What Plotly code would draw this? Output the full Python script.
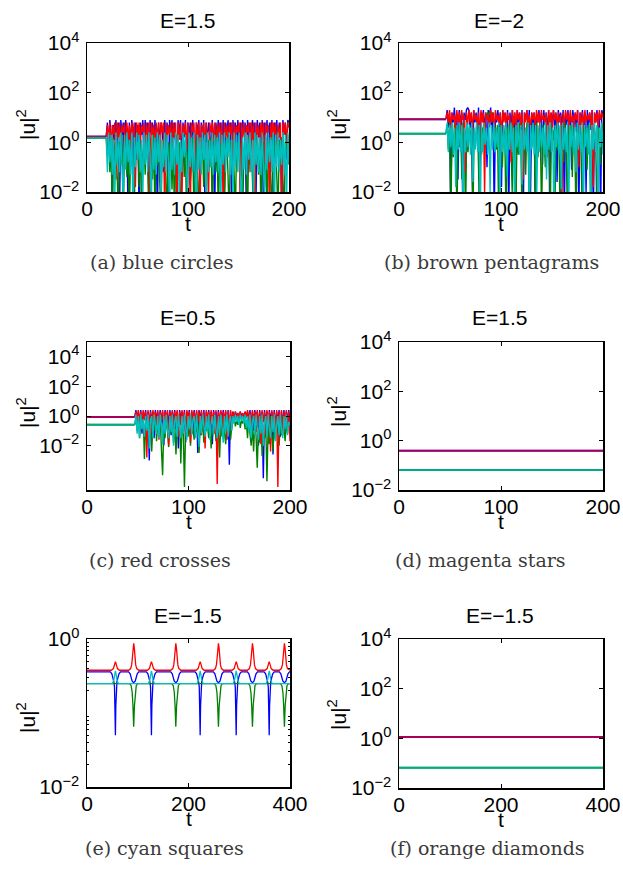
import numpy as np
import plotly.graph_objects as go

# ---------------- colours (MATLAB b, g, r, c) ----------------
C_BLUE, C_GREEN, C_RED, C_CYAN = "#0000FF", "#008000", "#FF0000", "#00BFBF"

titles = ["E=1.5", "E=\u22122", "E=0.5", "E=1.5", "E=\u22121.5", "E=\u22121.5"]
captions = ["(a) blue circles", "(b) brown pentagrams", "(c) red crosses",
            "(d) magenta stars", "(e) cyan squares", "(f) orange diamonds"]

# chaotic panels: values are log10(|u|^2) in tenths,
# spread evenly in time from the onset to the end of the run.

# ---------------- panel (a) ----------------
a_onset, a_tend = 19, 200
a_init_rb, a_init_gc = 2.3, 1.8
a_blue = [8, -2, 9, 3, -30, 7, 1, 9, -6, 8, -26, 9, 3, 8, -10, 9, 2, -30, 8, -2,
          9, 4, -16, 8, 0, 7, -30, 8, 3, 9, -8, 9, 1, 8, -22, 9, 4, 8, -5, 9,
          2, -30, 8, 0, 8, 5, -12, 9, 2, 8, -26, 9, 3, 9, -4, 8, 1, -30, 9, 4,
          9, -9, 8, 2, 9, -20, 8, 3, 8, -3, 9, 1, -30, 8, 4, 9, -11, 8, 2, 9,
          -24, 8, 0, 8, 4, -7, 9, 2, -30, 8, 3, 9, -5, 8, 1, 9, -18, 8, 4, 9,
          -2, 8, -30, 9, 3, 8, -8, 9, 2, 8, -14, 9, 4, 8, -30, 9, 1, 8, -6, 9,
          3, 8, -20, 9, 2, 8, -4, 9, -30, 8, 4, 9, -10, 8, 1, 9, -28, 8, 3, 9,
          -3, 8, 2, -30, 9, 4, 8, -7, 9, 8]
a_red = [7, 1, 8, -4, 7, 3, 8, -15, 8, 2, 8, -2, 7, 4, 8, -6, 8, 1, 7, -3,
         8, 3, 8, -18, 8, 2, 8, -1, 7, 4, 8, -5, 8, 1, 8, -30, 8, 3, 7, -2,
         8, 2, 8, -7, 8, 4, 8, -30, 8, 0, 7, 3, 8, -4, 8, 2, 8, -30, 8, 1,
         8, -30, 7, 3, 8, -3, 8, 2, -30, 8, 4, 8, -6, 8, 1, 8, -30, 7, 3, 8,
         -2, 8, 2, -22, 8, 4, 8, 0, 8, -5, 7, 3, 8, -1, 8, -30, 8, 2, 7, -4,
         8, 3, 8, -9, 8, 1, 7, 4, 8, -30, 8, 2, 8, -3, 7, 4, 8, -12, 8, 1,
         8, -30, 8, 3, 7, -2, 8, 2, 8, -8, 8, 4, 7, -30, 8, 1, 8, 3, 8, -5,
         7, 2, 8, -30, 8, 3, 8, -1, 8, 6]
a_green = [-5, 3, -12, 1, -30, 2, -8, 4, -16, -30, 0, -9, 3, -30, -4, 2, -14, 1, -30, -6,
           3, -10, -30, 2, -7, 0, -18, 3, -30, -5, 1, -13, 3, -8, -30, 2, -4, -15, 3, -30,
           0, -9, 2, -17, -30, 1, -6, 3, -12, -30, 0, -8, 2, -19, 1, -30, -5, 3, -11, 0,
           -30, -7, 2, -14, 1, -30, -3, 3, -16, -9, 2, -30, -2, 1, -13, -30, 2, -6, 0, -18,
           3, -30, -4, 1, -10, 2, -30, -5, 1, -12, 3, -30, -7, 2, -15, 0, -30, -3, 2, -11,
           -30, 1, -8, 3, -14, -30, 0, -6, 2, -17, 1, -30, -4, 3, -12, -30, 2, -9, 0, -16,
           -30, 2, -5, 1, -13, 3, -30, -7, 0, -18, 2, -30, -3, 1, -10, -30, 3, -6, 2, -15,
           -30, 1, -8, 2, -12, -30, 0, -4, 3, -9]
a_cyan = [-12, 4, -8, 3, -13, 1, -25, 4, -9, 2, -12, 4, -6, -24, 3, -11, 4, -8, 1, -13,
          4, -30, 2, -10, 4, -7, 3, -12, 1, -23, 4, -9, 3, -12, 4, -5, -28, 3, -11, 2,
          -13, 4, -8, 3, -22, 1, -10, 4, -12, 3, -7, -30, 4, -11, 2, -13, 4, -9, 3, -26,
          1, -12, 4, -6, 3, -13, -24, 4, -10, 2, -12, 4, -8, -30, 3, -11, 2, -13, 4, -7,
          3, -25, 4, -12, 1, -10, 4, -13, 3, -8, 2, -12, 4, -27, 3, -9, 4, -12, 2, -6,
          4, -13, 1, -23, 4, -10, 3, -12, 4, -8, -30, 2, -11, 4, -13, 3, -7, 4, -12, 1,
          -26, 4, -9, 3, -12, 2, -13, 4, -6, -24, 3, -11, 4, -8, 2, -12, 4, -30, 3, -10,
          4, -12, 1, -9, 4, -13, 3, -25, 4, -8]

# ---------------- panel (b) ----------------
b_onset, b_tend = 46, 200
b_init_rb, b_init_gc = 9.3, 3.5
b_blue = [13, 6, 12, -30, 12, 8, 14, 5, 12, -15, 13, 7, 12, -30, 12, 9, 13, 14, 13, 6,
          12, -20, 13, 8, 12, 4, 14, -30, 12, 9, 13, 5, 12, -10, 13, 7, 14, 3, 12, -30,
          12, 8, 13, 6, 12, -18, 13, 9, 12, 5, 13, -30, 12, 7, 13, 4, 12, -12, 13, 8,
          12, 5, 13, -30, 12, 9, 13, 6, 13, -22, 12, 7, 12, -30, 12, 8, 13, 6, 12, -9,
          13, 7, 12, 4, 13, -30, 12, 8, 13, 5, 12, -16, 13, 9, 12, 6, 13, -30, 12, 7,
          13, 5, 12, -11, 13, 8, 12, 4, 13, -30, 12, 9, 13, 6, 12, -20, 13, 7, 12, 5,
          13, -30, 12, 8, 13, 6, 12, -30, 13, 11]
b_red = [12, 8, 13, 6, 12, 9, 11, 5, 13, 8, 12, 4, 13, 9, 11, -12, 12, 7, 13, 8,
         12, 5, 13, 9, 11, 6, 12, 3, 13, 8, 12, -20, 12, 9, 11, 6, 13, 8, 12, 4,
         13, 9, 11, 7, 12, 2, 13, 8, 12, 6, 12, 9, 11, -8, 13, 7, 12, 5, 13, 9,
         12, 6, 12, -15, 12, 8, 13, 7, 11, 5, 12, 9, 12, 6, 13, 8, 12, 4, 13, 9,
         11, 7, 12, -6, 13, 8, 12, 5, 13, 9, 12, 6, 12, 8, 11, -25, 12, 7, 13, 9,
         12, 5, 13, 8, 11, 6, 12, 9, 13, -10, 12, 7, 12, 5, 13, 8, 11, 9, 12, 6,
         13, -18, 12, 8, 12, 6, 13, 9, 12, 10]
b_green = [7, -3, 9, -30, 5, -6, 8, 2, -30, 7, -2, 6, -15, 8, 1, -30, 7, -4, 6, 0,
           8, -30, 5, -2, 7, 3, -20, 8, -5, 6, 1, 8, 10, 12, 11, 13, 10, 12, 9, 6,
           -3, 7, -30, 5, 8, -10, 7, 2, -30, 6, -3, 8, 0, -20, 7, 3, -30, 6, -5, 8,
           1, -30, 7, 4, -13, 8, 0, -30, 6, -2, 7, 3, -30, 8, -6, 6, 1, -30, 7, 2,
           -10, 8, -4, 6, -30, 7, 1, 5, -20, 8, -3, 6, -30, 7, 2, -8, 8, -1, -30, 6,
           3, 7, -14, 8, 0, -30, 6, -4, 7, 2, -30, 8, -2, 6, -11, 7, 3, -30, 8, -5,
           6, 1, -30, 7, 2, -9, 8, 4]
b_cyan = [8, -4, 7, -2, 8, -5, 6, -18, 7, -3, 8, -4, 7, -30, 6, -4, 8, -2, 7, -5,
          8, -16, 6, -3, 8, -4, 7, -30, 7, -4, 8, -1, 6, -5, 8, -20, 7, -3, 8, -4,
          6, -2, 8, -30, 7, -4, 7, -5, 8, -14, 7, -3, 8, -4, 6, -30, 7, -2, 8, -5,
          7, -17, 8, -3, 6, -4, 8, -30, 7, -3, 8, -5, 7, -22, 7, -4, 8, -2, 6, -5,
          8, -15, 7, -3, 8, -4, 6, -30, 7, -2, 8, -5, 7, -19, 8, -3, 6, -4, 8, -30,
          7, -2, 8, -5, 6, -12, 8, -3, 7, -4, 8, -30, 7, -2, 6, -5, 8, -24, 7, -3,
          8, -4, 7, -30, 6, -2, 8, -5]

# ---------------- panel (c) ----------------
c_onset, c_tend = 47, 200
c_init_rb, c_init_gc = -0.7, -5.9
c_blue = [4, -3, 3, -6, 4, -12, 3, -2, 4, -8, 3, -30, 4, -4, 3, -15, 4, -2, 3, -9,
          4, -5, 3, -20, 4, -3, 3, -7, 4, -13, 3, -4, 4, -9, 3, -22, 4, -2, 3, -6,
          4, -18, 3, -3, 4, -8, 3, -12, 4, -5, 3, -25, 4, -2, 3, -7, 4, -14, 3, -4,
          4, -9, 3, -19, 4, -3, 3, -6, 4, -11, 3, -4, 4, -8, 3, -16, 4, -33, 3, -5,
          3, -2, 3, -1, 2, -3, 3, -1, 2, -2, 3, -1, 3, -3, 4, -6, 3, -10, 4, -4,
          3, -20, 4, -7, 3, -42, 4, -5, 3, -12, 4, -3, 3, -26, 4, -8, 3, -4, 4, -14,
          3, -6, 4, -10, 3, -3, 4, -4]
c_red = [3, -2, 4, -5, 3, -9, 4, -3, 3, -28, 4, -4, 3, -12, 4, -2, 3, -7, 4, -16,
         3, -3, 4, -10, 3, -5, 4, -20, 3, -2, 4, -8, 3, -4, 4, -14, 3, -6, 4, -3,
         3, -11, 4, -5, 3, -18, 4, -2, 3, -9, 4, -4, 3, -13, 4, -6, 3, -22, 4, -3,
         3, -8, 4, -5, 3, -12, 4, -46, 3, -4, 4, -10, 3, -3, 4, -15, 3, -6, 4, -8,
         3, -2, 3, -3, 2, -1, 3, -2, 2, -3, 3, -1, 4, -5, 3, -9, 4, -3, 3, -11,
         4, -6, 3, -19, 4, -4, 3, -13, 4, -7, 3, -24, 4, -5, 3, -10, 4, -48, 3, -6,
         4, -13, 3, -4, 4, -9, 3, -17]
c_green = [-2, -10, 0, -15, -4, -8, 0, -29, -5, -19, -3, -12, 0, -24, -6, -10, 0, -17, -4, -13,
           -1, -22, -40, -6, -15, 0, -9, -21, -3, -12, 0, -18, -5, -26, -8, -13, 0, -32, -4, -10,
           -48, -7, -1, -14, -3, -20, 0, -9, -16, -5, -11, 0, -25, -7, -13, -2, -18, 0, -10, -6,
           -15, -1, -22, -8, -12, 0, -17, -4, -9, -28, -3, -14, 0, -11, -19, -5, -10, -1, -16, -7,
           -5, -2, -7, -3, -6, -1, -8, -3, -5, -2, -9, -4, -15, -1, -12, -20, -6, -24, -3, -13,
           -35, -8, -18, 0, -27, -10, -15, -4, -44, -7, -19, 0, -12, -24, -5, -16, -2, -11, -20, -6,
           -13, 0, -9, -17, -4, -12, -2, -8]
c_cyan = [1, -12, 0, -15, 1, -9, -2, -14, 0, -10, 1, -22, -3, 0, -15, 1, -8, -12, 0, -15,
          1, -6, -19, 0, -12, 1, -9, -15, 0, -11, 1, -20, -4, 0, -14, 1, -8, -15, 0, -12,
          1, -7, -16, 0, -9, 1, -13, -3, 0, -15, 1, -10, -21, 0, -12, 1, -8, -14, 0, -11,
          1, -16, -5, 0, -13, 1, -9, -15, 0, -12, 1, -7, -18, 0, -11, 1, -14, -3, 0, -10,
          0, -5, 1, -4, 0, -6, 1, -3, 0, -5, 1, -8, 0, -11, 1, -15, -4, 0, -13, 1,
          -9, -16, 0, -12, 1, -20, -5, 0, -14, 1, -8, -15, 0, -11, 1, -17, -6, 0, -13, 1,
          -10, -15, 0, -9, 1, -13, -4, -6]

# ---------------- panel (d): constant levels ----------------
d_tend = 200
d_rb, d_gc = 0.39, 0.065

# ---------------- panel (e): periodic exchange ----------------
e_tend = 400
e_base_red, e_base_blue, e_base_gc = 0.378, 0.36, 0.249
e_events_A = [56, 127, 223, 294, 359]     # small red peak, deep blue dip, cyan bump
e_events_B = [92, 175, 259, 326, 389]     # large red peak, green dip, shallow blue dip
# pulse shapes: (time offset, |u|^2)
e_red_big = [(-10, 0.378), (-6, 0.398), (-4, 0.447), (-2.5, 0.562), (-1.2, 0.759),
             (0, 0.875), (1.2, 0.759), (2.5, 0.562), (4, 0.447), (6, 0.398), (10, 0.378)]
e_red_small = [(-8, 0.378), (-4, 0.398), (-2, 0.447), (0, 0.493), (2, 0.447),
               (4, 0.398), (8, 0.378)]
e_blue_A = [(-10, 0.36), (-7, 0.339), (-5, 0.302), (-3, 0.263), (-1.8, 0.224),
            (-0.8, 0.126), (0, 0.050), (0.8, 0.126), (1.8, 0.224), (3, 0.263),
            (5, 0.302), (7, 0.339), (10, 0.36)]
e_blue_B = [(-10, 0.36), (-7, 0.339), (-5, 0.302), (-3, 0.269), (0, 0.257),
            (3, 0.269), (5, 0.302), (7, 0.339), (10, 0.36)]
e_green_B = [(-8, 0.249), (-5, 0.234), (-3, 0.191), (-1.5, 0.126), (0, 0.065),
             (1.5, 0.126), (3, 0.191), (5, 0.234), (8, 0.249)]
e_cyan_A = [(-6, 0.249), (-3, 0.282), (-1.5, 0.331), (0, 0.37), (1.5, 0.331),
            (3, 0.282), (6, 0.249)]

# ---------------- panel (f): constant levels ----------------
f_tend = 400
f_rb, f_gc = 1.13, 0.065

fig = go.Figure()

# full window; the page's default body margin is removed after plotting
W, H = 623, 869
# panel geometry in window pixels
panels = [  # x0, x1, ytop, ybottom
    (87, 289, 43, 192), (399, 603, 43, 192),
    (87, 290, 342, 490), (399, 603, 342, 490),
    (87, 290, 639, 787), (399, 603, 639, 788),
]
title_pos = [(188, 20), (499, 20), (188, 317), (499, 317), (188, 615), (500, 615)]
tlabel_y = [223, 223, 521, 521, 818, 819]
ulabel_pos = [(26, 125), (337, 125), (26, 413), (337, 412), (26, 718), (337, 715)]
caption_pos = [(161, 262), (491, 262), (160, 560), (480, 560), (164, 848), (487, 848)]

RED_OVER_BLUE, CYAN_OVER_GREEN = 0.65, 0.7


def px(xp):
    return xp / W


def py(yp):
    return 1 - yp / H


def ax_names(i):
    return ("x" if i == 0 else f"x{i+1}", "y" if i == 0 else f"y{i+1}")


def add(i, x, y, color, width=1.5, opacity=1.0):
    xa, ya = ax_names(i)
    fig.add_trace(go.Scatter(x=list(x), y=list(y), mode="lines", xaxis=xa, yaxis=ya,
                             line=dict(color=color, width=width), opacity=opacity,
                             showlegend=False, hoverinfo="skip"))


def chaotic(i, onset, tend, init_rb, init_gc, blue, green, red, cyan):
    # initial constant plateaus (red over blue, cyan over green)
    add(i, [0, onset], [10 ** (init_rb / 10)] * 2, C_BLUE, 2)
    add(i, [0, onset], [10 ** (init_gc / 10)] * 2, C_GREEN, 2)
    add(i, [0, onset], [10 ** (init_rb / 10)] * 2, C_RED, 2, RED_OVER_BLUE)
    add(i, [0, onset], [10 ** (init_gc / 10)] * 2, C_CYAN, 2, CYAN_OVER_GREEN)
    for vals, init, col in [(blue, init_rb, C_BLUE), (green, init_gc, C_GREEN),
                            (red, init_rb, C_RED), (cyan, init_gc, C_CYAN)]:
        seq = [init] + list(vals)
        t = np.linspace(onset, tend, len(seq))
        add(i, t, [10 ** (v / 10) for v in seq], col, 1.4)


chaotic(0, a_onset, a_tend, a_init_rb, a_init_gc, a_blue, a_green, a_red, a_cyan)
chaotic(1, b_onset, b_tend, b_init_rb, b_init_gc, b_blue, b_green, b_red, b_cyan)
chaotic(2, c_onset, c_tend, c_init_rb, c_init_gc, c_blue, c_green, c_red, c_cyan)

# panel (d)
add(3, [0, d_tend], [d_rb] * 2, C_BLUE, 2)
add(3, [0, d_tend], [d_gc] * 2, C_GREEN, 2)
add(3, [0, d_tend], [d_rb] * 2, C_RED, 2, RED_OVER_BLUE)
add(3, [0, d_tend], [d_gc] * 2, C_CYAN, 2, CYAN_OVER_GREEN)


def pulses(base, tend, events_profiles):
    pts = [(0, base)]
    for events, prof in events_profiles:
        for t0 in events:
            pts += [(t0 + dt, v) for dt, v in prof]
    pts.append((tend, base))
    pts.sort(key=lambda p: p[0])
    return [p[0] for p in pts], [p[1] for p in pts]


tb, yb = pulses(e_base_blue, e_tend, [(e_events_A, e_blue_A), (e_events_B, e_blue_B)])
tg, yg = pulses(e_base_gc, e_tend, [(e_events_B, e_green_B)])
tr, yr = pulses(e_base_red, e_tend, [(e_events_A, e_red_small), (e_events_B, e_red_big)])
tc, yc = pulses(e_base_gc, e_tend, [(e_events_A, e_cyan_A)])
add(4, tb, yb, C_BLUE, 1.3)
add(4, tg, yg, C_GREEN, 1.3)
add(4, tr, yr, C_RED, 1.3)
add(4, tc, yc, C_CYAN, 1.3)

# panel (f)
add(5, [0, f_tend], [f_rb] * 2, C_BLUE, 2)
add(5, [0, f_tend], [f_gc] * 2, C_GREEN, 2)
add(5, [0, f_tend], [f_rb] * 2, C_RED, 2, RED_OVER_BLUE)
add(5, [0, f_tend], [f_gc] * 2, C_CYAN, 2, CYAN_OVER_GREEN)

# ---------------- axes ----------------
x_ranges = [[0, 200], [0, 200], [0, 200], [0, 200], [0, 400], [0, 400]]
x_ticks = [[0, 100, 200]] * 4 + [[0, 200, 400]] * 2
y_ranges = [[-2, 4], [-2, 4], [-5, 5], [-2, 4], [-2, 0], [-2, 4]]
y_tickvals = [[0.01, 1, 100, 10000]] * 4 + [[0.01, 1], [0.01, 1, 100, 10000]]
y_ticktext = [["10<sup>\u22122</sup>", "10<sup>0</sup>", "10<sup>2</sup>", "10<sup>4</sup>"]] * 4 + \
             [["10<sup>\u22122</sup>", "10<sup>0</sup>"],
              ["10<sup>\u22122</sup>", "10<sup>0</sup>", "10<sup>2</sup>", "10<sup>4</sup>"]]

SANS = "Liberation Sans, Arial, sans-serif"
TICKFONT = dict(family=SANS, size=21, color="black")
common = dict(showline=True, linecolor="black", linewidth=1.5, mirror="allticks",
              ticks="inside", ticklen=4, tickcolor="black", tickwidth=1,
              showgrid=False, zeroline=False, tickfont=TICKFONT, automargin=False,
              ticklabeloverflow="allow")

layout = dict(width=W, height=H, margin=dict(l=0, r=0, t=0, b=0, pad=0),
              paper_bgcolor="white", plot_bgcolor="white", showlegend=False)
annotations = []
for i, (x0, x1, yt, ybm) in enumerate(panels):
    xk = "xaxis" if i == 0 else f"xaxis{i+1}"
    yk = "yaxis" if i == 0 else f"yaxis{i+1}"
    xa, ya = ax_names(i)
    layout[xk] = dict(common, domain=[px(x0), px(x1)], range=x_ranges[i],
                      tickvals=x_ticks[i], ticktext=[str(v) for v in x_ticks[i]],
                      anchor=ya, ticklabelstandoff=-3)
    ydict = dict(common, domain=[py(ybm), py(yt)], type="log", range=y_ranges[i],
                 tickvals=y_tickvals[i], ticktext=y_ticktext[i], anchor=xa,
                 ticklabelstandoff=2)
    if i == 4:
        ydict["minor"] = dict(ticks="inside", ticklen=2, tickcolor="black",
                              tickvals=[0.02, 0.03, 0.04, 0.05, 0.06, 0.07, 0.08, 0.09,
                                        0.2, 0.3, 0.4, 0.5, 0.6, 0.7, 0.8, 0.9])
    layout[yk] = ydict
    annotations.append(dict(text=titles[i], x=px(title_pos[i][0]), y=py(title_pos[i][1]),
                            xref="paper", yref="paper", showarrow=False,
                            font=dict(family=SANS, size=21, color="black"),
                            xanchor="center", yanchor="middle"))
    annotations.append(dict(text="t", x=px((x0 + x1) / 2), y=py(tlabel_y[i]),
                            xref="paper", yref="paper", showarrow=False,
                            font=dict(family=SANS, size=21, color="black"),
                            xanchor="center", yanchor="middle"))
    annotations.append(dict(text="|u|<sup>2</sup>", x=px(ulabel_pos[i][0]), y=py(ulabel_pos[i][1]),
                            xref="paper", yref="paper", textangle=-90, showarrow=False,
                            font=dict(family=SANS, size=21, color="black"),
                            xanchor="center", yanchor="middle"))
    annotations.append(dict(text=captions[i], x=px(caption_pos[i][0]), y=py(caption_pos[i][1]),
                            xref="paper", yref="paper", showarrow=False,
                            font=dict(family="DejaVu Serif, serif", size=19, color="#3a3a3a"),
                            xanchor="center", yanchor="middle"))
layout["annotations"] = annotations
fig.update_layout(**layout)
fig.write_html("out.html", config={"displayModeBar": False, "staticPlot": True},
               post_script="document.body.style.margin='0';document.body.style.overflow='hidden';")
